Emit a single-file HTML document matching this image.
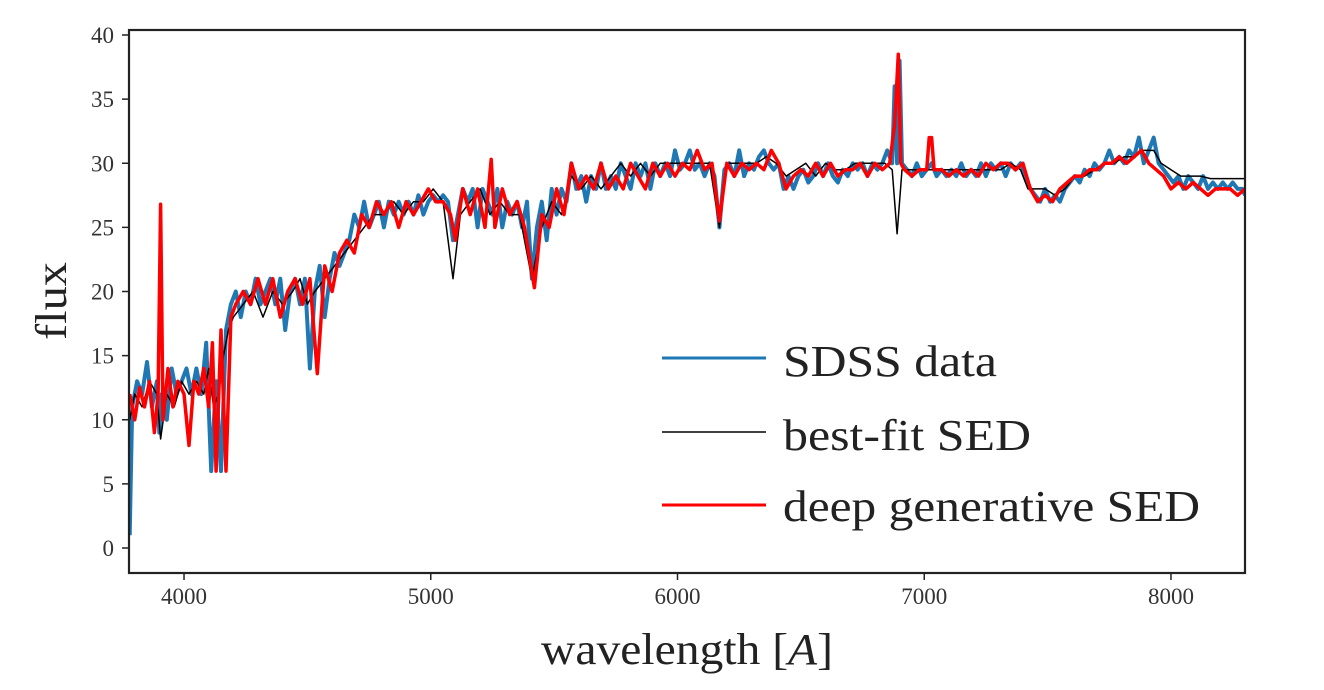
<!DOCTYPE html>
<html><head><meta charset="utf-8"><style>
html,body{margin:0;padding:0;background:#fff;}
svg{display:block;font-family:"Liberation Serif","DejaVu Serif",serif;}
</style></head><body>
<svg id="chart" width="1324" height="690" viewBox="0 0 1324 690" xmlns="http://www.w3.org/2000/svg">
<rect x="0" y="0" width="1324" height="690" fill="#fff"/>
<g id="series"></g>
<rect x="129" y="30" width="1116" height="543" fill="none" stroke="#222" stroke-width="2.2"/>
<g id="xticks"></g>
<g id="yticks"></g>
<text x="541" y="664" font-size="44" textLength="292" lengthAdjust="spacingAndGlyphs" fill="#222">wavelength [<tspan font-style="italic">A</tspan>]</text>
<text transform="translate(66,301) rotate(-90)" font-size="44" text-anchor="middle" textLength="78" lengthAdjust="spacingAndGlyphs" fill="#222">flux</text>
<g>
<line x1="662" y1="358" x2="766" y2="358" stroke="#1f77b4" stroke-width="3"/>
<text x="783" y="376" font-size="44" textLength="214" lengthAdjust="spacingAndGlyphs" fill="#222">SDSS data</text>
<line x1="662" y1="432" x2="766" y2="432" stroke="#000" stroke-width="1.5"/>
<text x="783" y="450" font-size="44" textLength="248" lengthAdjust="spacingAndGlyphs" fill="#222">best-fit SED</text>
<line x1="662" y1="505" x2="766" y2="505" stroke="#ff0000" stroke-width="3"/>
<text x="783" y="521" font-size="44" textLength="417" lengthAdjust="spacingAndGlyphs" fill="#222">deep generative SED</text>
</g>
</svg>
<script>
const xTicks=[4000,5000,6000,7000,8000];
const yTicks=[0,5,10,15,20,25,30,35,40];
const sdssWave=[3780,3790,3810,3830,3850,3870,3890,3900,3910,3930,3950,3970,3990,4010,4030,4050,4070,4090,4110,4130,4150,4170,4190,4210,4230,4250,4270,4290,4310,4330,4350,4370,4390,4410,4430,4450,4470,4490,4510,4530,4550,4570,4590,4610,4630,4650,4670,4690,4710,4730,4750,4770,4790,4810,4830,4850,4870,4890,4910,4930,4950,4970,4990,5010,5030,5050,5070,5090,5110,5130,5150,5170,5190,5210,5230,5250,5270,5290,5310,5330,5350,5370,5390,5410,5430,5450,5470,5490,5510,5530,5550,5570,5590,5610,5630,5650,5670,5690,5710,5730,5750,5770,5790,5810,5830,5850,5870,5890,5910,5930,5950,5970,5990,6010,6030,6050,6070,6090,6110,6130,6150,6170,6190,6210,6230,6250,6270,6290,6310,6330,6350,6370,6390,6410,6430,6450,6470,6490,6510,6530,6550,6570,6590,6610,6630,6650,6670,6690,6710,6730,6750,6770,6790,6810,6830,6850,6870,6880,6890,6900,6910,6930,6950,6970,6990,7010,7030,7050,7070,7090,7110,7130,7150,7170,7190,7210,7230,7250,7270,7290,7310,7330,7350,7370,7390,7410,7430,7450,7470,7490,7510,7530,7550,7570,7590,7610,7630,7650,7670,7690,7710,7730,7750,7770,7790,7810,7830,7850,7870,7890,7910,7930,7950,7970,7990,8010,8030,8050,8070,8090,8110,8130,8150,8170,8190,8210,8230,8250,8270,8290,8300];
const sdssFlux=[1,11,13,12,14.5,11,13,9,12,10,14,12,13,14,12,14,12,16,6,13,6,17,19,20,18,20,19,21,19,20,21,19,21,17,20,21,19,21,14,20,22,18,21,23,22,23,24,26,25,27,25,26,27,25,27,26,27,26,27,26,27.5,26,27,27.5,27,27.5,27,24,26,28,27,28,25,28,27,26,28,25,27,26,27,25,27,21,25,27,24,28,26,28,27,30,28,29,27,29,28,30,28,29,28,30,29,28,30,29,30,28,30,29,30,29,31,29.5,30,31,29.5,30,29,30,29,25,29.5,30,29,31,29,30,29.5,30.5,31,30,29.5,30,28,29,28,29,29.5,28.5,29,30,29,30,29,28.5,29.5,29,30,29.5,30,29,30,29.5,30,31,30,36,30,38,30,29.5,29,30,29,29.5,30,29,29.5,29,29.5,29,30,29,29.5,29,30,29,30,29.5,30,29,30,29.5,30,29,28,27.5,27,28,27,27.5,27,28,28.5,29,28.5,29.5,29,30,29.5,30,31,30,30.5,30,31,30.5,32,30,31,32,30,29.5,29,28.5,29,28,29,28.5,28,29,28,28.5,28,28.5,28,28.5,28,28,27.5];
const fitWave=[3780,3800,3830,3860,3890,3905,3930,3960,3990,4020,4050,4080,4100,4120,4140,4160,4180,4200,4240,4280,4320,4360,4400,4440,4470,4500,4530,4570,4610,4650,4690,4730,4770,4810,4850,4890,4930,4970,5010,5050,5090,5120,5160,5200,5240,5280,5320,5360,5410,5450,5490,5530,5570,5610,5650,5690,5730,5770,5810,5850,5890,5930,5970,6010,6050,6090,6130,6170,6200,6240,6280,6320,6360,6400,6440,6480,6520,6560,6600,6640,6680,6720,6760,6800,6840,6870,6890,6910,6950,6990,7030,7070,7110,7150,7190,7230,7270,7310,7350,7390,7420,7450,7490,7530,7570,7610,7650,7690,7730,7770,7810,7850,7890,7930,7960,8000,8040,8080,8120,8160,8200,8240,8280,8300];
const fitFlux=[10,12,11,13,12,8.5,12,11,13,12,13,12,14,11,12,15,17,18,19,20,18,20,19,20,21,19,20,21,22,23,24,25,26,26,27,26,27,27,28,27,21,26,27,28,26,27,26,26,21,25,27,26,29,28,29,28,29,30,29,30,29,30,30,30,30,30,30,25,30,30,30,30,30.5,30,29,29.5,30,29,30,29.5,29.5,30,30,30,30,29.5,24.5,29.5,29.5,29.5,29.5,29.5,29.5,29.5,29.5,29.5,29.5,29.5,30,29.5,28,28,28,27.5,28,29,29,29.5,30,30,30.5,30.5,31,31,30,29.5,29,29,29,28.8,28.8,28.8,28.8,28.8];
const deepWave=[3780,3800,3820,3840,3860,3880,3895,3905,3915,3935,3955,3975,4000,4020,4040,4060,4080,4100,4115,4130,4150,4170,4190,4210,4240,4270,4300,4330,4360,4390,4420,4450,4480,4510,4540,4570,4600,4630,4660,4690,4720,4750,4780,4810,4840,4870,4900,4930,4960,4990,5020,5050,5080,5100,5130,5160,5190,5220,5245,5260,5290,5320,5350,5380,5420,5450,5480,5510,5540,5570,5600,5630,5660,5690,5720,5750,5780,5810,5840,5870,5900,5930,5960,5990,6020,6050,6080,6110,6140,6170,6200,6230,6260,6290,6320,6350,6380,6410,6440,6470,6500,6530,6560,6590,6620,6650,6680,6710,6740,6770,6800,6830,6860,6880,6895,6905,6920,6950,6980,7010,7020,7030,7040,7070,7100,7130,7160,7190,7220,7250,7280,7310,7340,7370,7400,7430,7460,7490,7520,7550,7580,7610,7640,7670,7700,7730,7760,7790,7820,7850,7880,7910,7940,7970,8000,8030,8060,8090,8120,8150,8180,8210,8240,8270,8300];
const deepFlux=[12,10,12.5,11,13,9,12,26.8,10,14,11,13,12,8,13,12,14,11,16,6,17,6,18,19,20,19,21,19,21,18,20,21,19,21,13.6,22,20,23,24,23,26,25,27,26,27,25,27,26,27,28,27,27,26,24,28,26,28,25,30.3,25,28,26,27,25,20.3,26,25,28,26,30,28,29,28,30,28,29,28,30,29,28,30,29,30,29,30,29.5,31,29.5,30,25.5,30,29,30,29.5,30,29.5,31,30,28,29,29.5,29,30,29,30,29,29.5,29.5,30,29,30,29.5,30,33,38.5,30,29.5,29,29.5,29.5,32,32,29.5,29.5,29,29.5,29,29.5,29,30,29.5,30,30,29.5,30,28,27,27.5,27,28,28.5,29,29,29.5,29.5,30,30,30.5,30,30.5,31,30,29.5,29,28,28.5,28,28.5,28,27.5,28,28,28,27.5,28,27.5];

const NS='http://www.w3.org/2000/svg';
const X0=3777,X1=8300,PX0=129,PX1=1245;
const Y0=0,PY0=548,PPU=(548-35)/40;
function xs(v){return PX0+(v-X0)*(PX1-PX0)/(X1-X0);}
function ys(v){return PY0-(v-Y0)*PPU;}
function mk(tag,attrs){const e=document.createElementNS(NS,tag);for(const k in attrs)e.setAttribute(k,attrs[k]);return e;}
const g=document.getElementById('series');
function line(w,f,color,width,name){
  const p=mk('path',{d:w.map((v,i)=>(i?'L':'M')+xs(v).toFixed(1)+' '+ys(f[i]).toFixed(1)).join(''),fill:'none',stroke:color,'stroke-width':width,'stroke-linejoin':'round'});
  
  
  g.appendChild(p);
}
const cp=mk('clipPath',{id:'clip'});cp.appendChild(mk('rect',{x:129,y:30,width:1116,height:543}));
document.getElementById('chart').insertBefore(cp,g);g.setAttribute('clip-path','url(#clip)');
line(sdssWave,sdssFlux,'#1f77b4',4,'sdss-data-line');
line(fitWave,fitFlux,'#000','1.5','best-fit-sed-line');
line(deepWave,deepFlux,'#ff0000',3.5,'deep-generative-sed-line');
const xg=document.getElementById('xticks');
xTicks.forEach(t=>{
  const l=mk('line',{x1:xs(t),x2:xs(t),y1:573,y2:580,stroke:'#222','stroke-width':1.5});
  
  
  xg.appendChild(l);
  const tx=mk('text',{x:xs(t),y:604,'font-size':23,'text-anchor':'middle',fill:'#333'});tx.textContent=t;
  
  
  xg.appendChild(tx);
});
const yg=document.getElementById('yticks');
yTicks.forEach(t=>{
  const l=mk('line',{x1:122,x2:129,y1:ys(t),y2:ys(t),stroke:'#222','stroke-width':1.5});
  
  
  yg.appendChild(l);
  const tx=mk('text',{x:114,y:ys(t)+8,'font-size':23,'text-anchor':'end',fill:'#333'});tx.textContent=t;
  
  
  yg.appendChild(tx);
});
</script>
</body></html>
